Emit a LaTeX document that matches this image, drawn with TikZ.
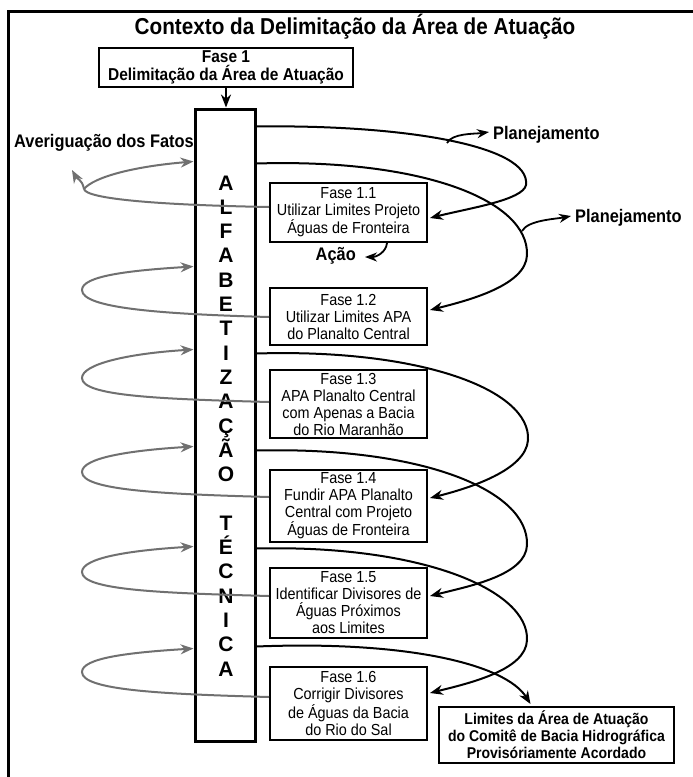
\documentclass[tikz,border=0pt]{standalone}
\usepackage{fontspec}
\setmainfont[FakeStretch=0.9]{Liberation Sans}
\newfontfamily\lettersans{Liberation Sans}
\usetikzlibrary{arrows.meta,calc}
\definecolor{loopgray}{RGB}{112,112,112}
\begin{document}
\begin{tikzpicture}[x=1pt,y=-1pt,
  phasebox/.style={draw, line width=2pt, fill=white, minimum width=157pt,
    inner sep=0pt, align=center, font=\fontsize{16}{17}\selectfont},
  plan/.style={draw=black, line width=2pt, -{Stealth[length=13pt,width=10pt]}},
  smallplan/.style={draw=black, line width=1.8pt, -{Stealth[length=12pt,width=9pt]}},
  check/.style={draw=loopgray, line width=2pt, -{Stealth[length=13pt,width=10pt]}},
  checkline/.style={draw=loopgray, line width=2pt},
  lbl/.style={font=\fontsize{18.2}{19}\selectfont\bfseries, inner sep=0pt},
  colletter/.style={font=\lettersans\fontsize{21}{21}\selectfont\bfseries, inner sep=0pt, anchor=base}
]
\useasboundingbox (0,0) rectangle (693,777);
\fill[white] (0,0) rectangle (693,777);

% outer frame (open towards the right and bottom edges)
\draw[line width=3pt] (8,790) -- (8,11) -- (693,11);

% title
\node[font=\fontsize{23}{24}\selectfont\bfseries, inner sep=0pt] (title) at (355,27)
  {Contexto da Delimitação da Área de Atuação};

% phase 1 header box
\node[draw, line width=2pt, minimum width=254pt, minimum height=39pt, inner sep=0pt,
  align=center, font=\fontsize{17.2}{18}\selectfont\bfseries] (f1) at (226,67.5)
  {Fase 1\\Delimitação da Área de Atuação};

% vertical column
\node[draw, line width=3pt, fill=white, minimum width=60pt, minimum height=632pt,
  inner sep=0pt] (col) at (225,425) {};
\draw[plan] (f1.south) -- (f1.south |- col.north);

\foreach \ch [count=\i from 0] in {A,L,F,A,B,E,T,I,Z,A,Ç,Ã,O,{},T,É,C,N,I,C,A}
  \node[colletter] (ltr\i) at ($(col.north)+(1,82.5+24.3*\i)$) {\ch};

% phase boxes
\node[phasebox, minimum height=59pt] (p11) at (348.5,212.5)
  {Fase 1.1\\Utilizar Limites Projeto\\Águas de Fronteira};
\node[phasebox, minimum height=57pt] (p12) at (348.5,316.5)
  {Fase 1.2\\Utilizar Limites APA\\do Planalto Central};
\node[phasebox, minimum height=68pt] (p13) at (348.5,404)
  {Fase 1.3\\APA Planalto Central\\com Apenas a Bacia\\do Rio Maranhão};
\node[phasebox, minimum height=72pt] (p14) at (348.5,506)
  {Fase 1.4\\Fundir APA Planalto\\Central com Projeto\\Águas de Fronteira};
\node[phasebox, minimum height=70pt] (p15) at (348.5,603)
  {Fase 1.5\\Identificar Divisores de\\Águas Próximos\\aos Limites};
\node[phasebox, minimum height=73pt] (p16) at (348.5,703.5)
  {Fase 1.6\\Corrigir Divisores\\de Águas da Bacia\\do Rio do Sal};

% result box
\node[draw, line width=2pt, fill=white, minimum width=235pt, minimum height=56pt,
  inner sep=0pt, align=center, font=\fontsize{15.6}{17}\selectfont\bfseries] (fin) at (556.5,735)
  {Limites da Área de Atuação\\do Comitê de Bacia Hidrográfica\\Provisóriamente Acordado};

% labels
\node[lbl] (av) at (104,143) {Averiguação dos Fatos};
\node[lbl, anchor=west] (pl1) at (493,135) {Planejamento};
\node[lbl, anchor=west] (pl2) at (575,218) {Planejamento};
\node[lbl, anchor=east] (ac) at (356,256) {Ação};

% fact-checking loops (grey), from each phase back to the column
\coordinate (v1) at ($(p11.west)+(-185,-23.5)$);
\draw[checkline] ($(p11.west)+(0,-5.5)$) .. controls +(-110,-2) and +(2,10) .. (v1);
\draw[check] (v1) .. controls +(-2,-10) and +(5,9) .. ($(p11.west)+(-197,-42.5)$);
\draw[check] (v1) .. controls +(10,-12) and +(-60,5) .. ($(col.north west)+(0,54)$);

\draw[check] ($(p12.west)+(0,0.5)$) .. controls +(-110,-3) and +(0,18) .. ($(p12.west)+(-187,-26.5)$)
  .. controls +(0,-14) and +(-65,4) .. ($(col.north west)+(0,159)$);
\draw[check] ($(p13.west)+(0,-2)$) .. controls +(-110,-3) and +(0,18) .. ($(p13.west)+(-187,-26)$)
  .. controls +(0,-14) and +(-65,4) .. ($(col.north west)+(0,242)$);
\draw[check] ($(p14.west)+(0,-9)$) .. controls +(-110,-3) and +(0,18) .. ($(p14.west)+(-187,-34)$)
  .. controls +(0,-14) and +(-65,4) .. ($(col.north west)+(0,339)$);
\draw[check] ($(p15.west)+(0,-7)$) .. controls +(-110,-3) and +(0,18) .. ($(p15.west)+(-187,-31)$)
  .. controls +(0,-14) and +(-65,4) .. ($(col.north west)+(0,439)$);
\draw[check] ($(p16.west)+(0,-6.5)$) .. controls +(-110,-3) and +(0,18) .. ($(p16.west)+(-187,-31.5)$)
  .. controls +(0,-14) and +(-65,4) .. ($(col.north west)+(0,541)$);

% planning loops (black), from the column forward to the next phase
\draw[plan] ($(col.north east)+(0,19)$) .. controls +(145,-2) and +(5,-40) .. ($(p11.east)+(98,-27.5)$)
  .. controls +(-3,15) and +(40,-10) .. ($(p11.east)+(2,5.5)$);
\draw[plan] ($(col.north east)+(0,56)$) .. controls +(165,-5) and +(2,-55) .. ($(p12.east)+(99,-61.5)$)
  .. controls +(-1,30) and +(40,-10) .. ($(p12.east)+(2,-6.5)$);
\draw[plan] ($(col.north east)+(0,246)$) .. controls +(165,-5) and +(3,-50) .. ($(p14.east)+(100,-66)$)
  .. controls +(-2,30) and +(40,-10) .. ($(p14.east)+(2,-8)$);
\draw[plan] ($(col.north east)+(0,343)$) .. controls +(165,-4) and +(2,-55) .. ($(p15.east)+(99,-58)$)
  .. controls +(-1,30) and +(40,-10) .. ($(p15.east)+(2,-7)$);
\draw[plan] ($(col.north east)+(0,441)$) .. controls +(165,-4) and +(2,-50) .. ($(p16.east)+(99,-63.5)$)
  .. controls +(-1,30) and +(40,-10) .. ($(p16.east)+(2,-10.5)$);
\draw[plan] ($(col.north east)+(0,539)$) .. controls +(150,-6) and +(-25,-40) .. ($(fin.north)+(-26,-2)$);

% short excursions to the side labels
\draw[smallplan] ($(pl1.west)+(-46,8)$) .. controls +(5,-10) and +(-14,2) .. ($(pl1.west)+(-4,-3)$);
\draw[smallplan] ($(pl2.west)+(-53,13)$) .. controls +(6,-11) and +(-15,3) .. ($(pl2.west)+(-4,-2)$);
\draw[smallplan] ($(p11.south)+(38.5,0)$) .. controls +(-1,9) and +(12,0) .. ($(ac.east)+(9,1)$);
\end{tikzpicture}
\end{document}
